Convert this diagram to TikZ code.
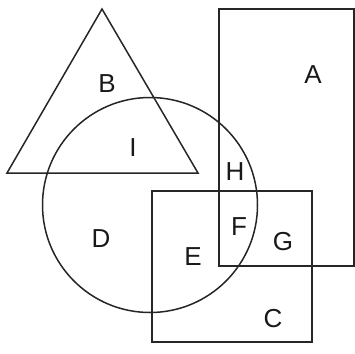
\documentclass[tikz,border=0pt]{standalone}
\usepackage{fontspec}
\setmainfont{Liberation Sans}
\usetikzlibrary{positioning}

\begin{document}
\begin{tikzpicture}[
  x=1pt,y=-1pt,
  region/.style={draw=black!85,line width=1.5pt},
  lbl/.style={font=\fontsize{26}{26}\selectfont,inner sep=0pt,black!90},
]
\useasboundingbox (0,0) rectangle (355,353);

% the four sets
\draw[region] (102,9) -- (7,173) -- (198,173) -- cycle;
\draw[region] (150,205) circle[radius=107.5];
\draw[region] (219,9) rectangle (354,266);
\draw[region] (152,191) rectangle (312,342);

% region labels
\node[lbl] (a) at (313,75)  {A};
\node[lbl] (b) at (107,84)  {B};
\node[lbl] (i) at (133,148) {I};
\node[lbl] (h) at (235,172) {H};
\node[lbl] (f) at (239,227) {F};
\node[lbl] (g) at (283,242) {G};
\node[lbl] (d) at (101,239) {D};
\node[lbl] (e) at (193,257) {E};
\node[lbl] (c) at (273,319) {C};
\end{tikzpicture}
\end{document}
